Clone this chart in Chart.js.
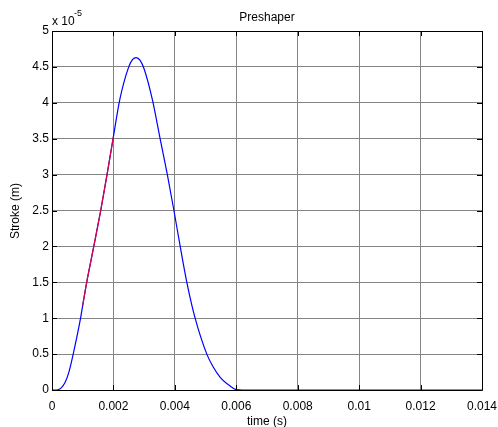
<!DOCTYPE html>
<html>
<head>
<meta charset="utf-8">
<script src="https://cdn.jsdelivr.net/npm/chart.js@4/dist/chart.umd.min.js"></script>
<style>
html,body{margin:0;padding:0;background:#fff;}
#wrap{width:498px;height:427px;position:relative;}
</style>
</head>
<body>
<div id="wrap"><canvas id="c" width="498" height="427"></canvas></div>
<script>
// time (s)
const timeS = [0, 0.00015, 0.0003, 0.00042, 0.00055, 0.00069, 0.00093, 0.001, 0.00113, 0.00137, 0.00159, 0.0018, 0.002, 0.00221, 0.00249, 0.00262, 0.00274, 0.00287, 0.003, 0.00327, 0.00352, 0.00376, 0.00397, 0.00417, 0.00439, 0.00466, 0.00504, 0.00525, 0.00547, 0.0058, 0.006, 0.0062, 0.014];
// stroke in units of 1e-5 m
const strokeE5 = [0, 0.0, 0.03, 0.10, 0.25, 0.5, 1.0, 1.18, 1.5, 2.02, 2.51, 3.02, 3.53, 4.05, 4.49, 4.60, 4.63, 4.59, 4.47, 4.04, 3.50, 2.99, 2.50, 2.01, 1.50, 1.00, 0.50, 0.32, 0.18, 0.055, 0.005, 0, 0];
// red highlighted segment
const redTime = [0.001, 0.00113, 0.00137, 0.00159, 0.0018, 0.002];
const redStrokeE5 = [1.18, 1.5, 2.02, 2.51, 3.02, 3.53];
const xTicks = [0, 0.002, 0.004, 0.006, 0.008, 0.01, 0.012, 0.014];
const yTicks = [0, 0.5, 1, 1.5, 2, 2.5, 3, 3.5, 4, 4.5, 5];

const FONT = 'Liberation Sans, Arial, sans-serif';
const toPts = (xs, ys) => xs.map((x, i) => ({x: x, y: ys[i]}));

const framePlugin = {
  id: 'frame',
  afterDraw(chart) {
    const {ctx, chartArea: a, scales} = chart;
    ctx.save();
    ctx.strokeStyle = '#000';
    ctx.lineWidth = 1;
    ctx.beginPath();
    ctx.rect(a.left + 0.5, a.top + 0.5, a.right - a.left, a.bottom - a.top);
    ctx.stroke();
    const tl = 5;
    ctx.beginPath();
    xTicks.forEach(v => {
      const px = Math.round(scales.x.getPixelForValue(v)) + 0.5;
      ctx.moveTo(px, a.bottom); ctx.lineTo(px, a.bottom - tl);
      ctx.moveTo(px, a.top); ctx.lineTo(px, a.top + tl);
    });
    yTicks.forEach(v => {
      const py = Math.round(scales.y.getPixelForValue(v)) + 0.5;
      ctx.moveTo(a.left, py); ctx.lineTo(a.left + tl, py);
      ctx.moveTo(a.right, py); ctx.lineTo(a.right - tl, py);
    });
    ctx.stroke();
    // texts
    ctx.fillStyle = '#000';
    const cx = (a.left + a.right) / 2;
    ctx.textAlign = 'center';
    ctx.textBaseline = 'alphabetic';
    ctx.font = '12px ' + FONT;
    ctx.fillText('Preshaper', cx, 21);
    ctx.fillText('time (s)', cx, 425);
    ctx.save();
    ctx.translate(19, 211);
    ctx.rotate(-Math.PI / 2);
    ctx.fillText('Stroke (m)', 0, 0);
    ctx.restore();
    ctx.textAlign = 'left';
    ctx.font = '12px ' + FONT;
    ctx.fillText('x 10', 52, 25);
    ctx.font = '9px ' + FONT;
    ctx.fillText('-5', 74, 16);
    ctx.restore();
  }
};

new Chart(document.getElementById('c'), {
  type: 'line',
  data: {
    datasets: [
      {data: toPts(redTime, redStrokeE5), borderColor: '#e4003a', borderWidth: 1.2, pointRadius: 0, cubicInterpolationMode: 'monotone', order: 0},
      {data: toPts(timeS, strokeE5), borderColor: '#0000ff', borderWidth: 1.2, pointRadius: 0, cubicInterpolationMode: 'monotone', order: 1}
    ]
  },
  options: {
    responsive: false,
    animation: false,
    events: [],
    layout: {padding: {top: 31, right: 16, left: 0, bottom: 0}},
    plugins: {legend: {display: false}, tooltip: {enabled: false}, title: {display: false}},
    scales: {
      x: {
        type: 'linear', min: 0, max: 0.014,
        afterBuildTicks: s => { s.ticks = xTicks.map(v => ({value: v})); },
        afterFit: s => { s.height = 37; s.paddingLeft = 0; s.paddingRight = 0; },
        ticks: {font: {family: FONT, size: 12}, color: '#000', padding: 9, maxRotation: 0,
          callback: v => v === 0 ? '0' : String(+v.toFixed(3))},
        grid: {color: '#858585', drawTicks: false, lineWidth: 1},
        border: {display: false}
      },
      y: {
        type: 'linear', min: 0, max: 5,
        afterBuildTicks: s => { s.ticks = yTicks.map(v => ({value: v})); },
        afterFit: s => { s.width = 52; s.paddingTop = 0; s.paddingBottom = 0; },
        ticks: {font: {family: FONT, size: 12}, color: '#000', padding: 3,
          callback: v => String(v)},
        grid: {color: '#858585', drawTicks: false, lineWidth: 1},
        border: {display: false}
      }
    }
  },
  plugins: [framePlugin]
});
</script>
</body>
</html>
